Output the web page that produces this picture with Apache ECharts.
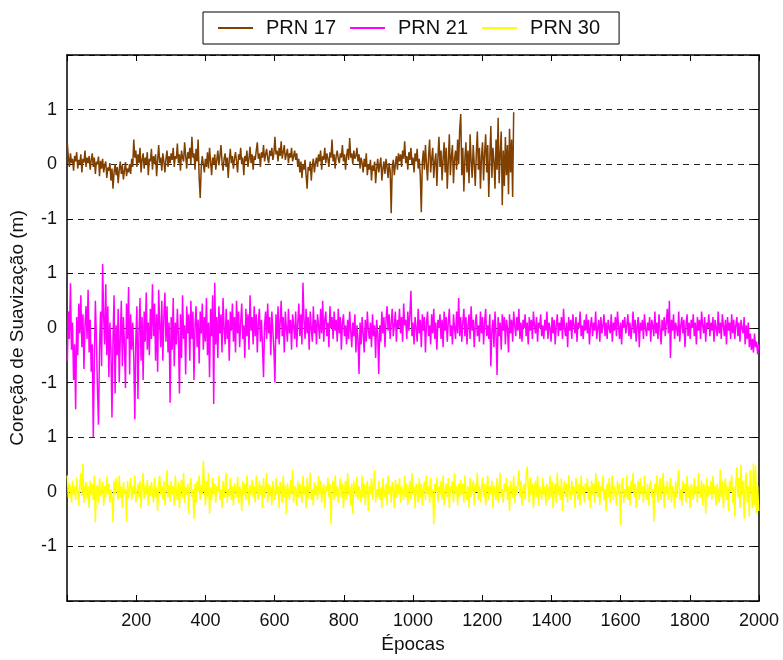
<!DOCTYPE html>
<html><head><meta charset="utf-8">
<script src="https://cdn.jsdelivr.net/npm/echarts@6/dist/echarts.min.js"></script>
<style>html,body{margin:0;padding:0;background:#fff}#c{width:783px;height:660px}</style>
</head><body><div id="c"></div>
<script>
const seriesNames = ['PRN 17', 'PRN 21', 'PRN 30'];
const seriesColors = ['#804000', '#ff00ff', '#ffff00'];
const epochStart = 1;
const epochStep = 3;
const seriesOffsets = [3, 0, -3];
const yTickLabels = ['', '-1', '0', '1', '-1', '0', '1', '-1', '0', '1', ''];
const xTickValues = [200, 400, 600, 800, 1000, 1200, 1400, 1600, 1800, 2000];

const prn17 = [
.38,.12,-.05,.20,.02,.10,-.12,.15,.05,.22,-.08,.08,.00,.18,-.15,.10,.03,.25,-.05,.12,
.02,.15,-.10,.08,.20,-.05,.12,-.18,.05,.00,.14,-.22,.06,-.08,.10,-.15,-.02,.05,-.25,-.06,
-.12,.02,-.30,-.08,-.45,-.15,.00,-.20,-.05,-.35,-.10,.05,-.18,-.02,-.28,-.12,.04,-.22,-.08,-.15,
.00,-.18,.10,-.05,.45,.12,.25,-.05,.18,.02,.30,-.15,.08,.20,-.08,.12,.00,.22,-.20,.10,
.05,.28,-.10,.15,.00,.18,-.22,.08,.35,.02,.12,-.12,.20,.05,-.15,.10,.25,-.05,.15,.02,
.20,.08,.30,-.05,.15,.10,.38,.02,.18,-.12,.25,.12,.05,.40,.15,-.08,.22,.10,.30,.00,
.50,.12,.20,-.10,.28,.05,.45,-.25,-.62,-.05,.15,.00,-.15,.10,-.05,.22,-.08,.30,.05,-.20,
.12,.00,.18,-.10,.08,.25,-.02,.15,.35,.05,-.12,.10,.20,-.05,.12,-.25,.08,.28,.02,.15,
-.08,.10,.22,.05,-.15,.18,.08,.30,.00,.12,-.20,.15,.05,.25,-.05,.10,.32,.02,.18,-.10,
.15,.08,.25,.40,.10,.20,-.05,.22,.12,.35,.05,.18,.28,.10,.02,.25,.15,.30,.08,.20,
.50,.18,.25,.05,.30,.15,.42,.10,.22,.35,.08,.18,.28,.02,.20,.12,.30,.05,.15,.25,
.08,.20,-.05,.10,-.15,.05,-.25,.00,-.10,.08,-.20,-.45,-.05,-.12,.05,-.30,-.02,.10,-.15,.02,
.12,-.05,.18,.05,.25,-.10,.15,.08,.30,.02,.20,.10,-.05,.22,.12,.45,.05,.18,-.08,.15,
.25,.10,.02,.20,.12,.35,.05,.18,-.10,.15,.28,.08,.48,.12,.20,.00,.25,.10,.15,.30,
.05,.18,-.08,.12,.02,-.15,.10,-.05,.20,-.20,.00,-.10,.08,-.30,-.02,-.12,.05,-.35,-.08,.10,
-.15,-.02,.12,-.30,-.08,.05,-.18,.10,-.05,-.25,.02,-.12,-.90,-.05,.08,-.20,.00,.15,-.10,.20,
.05,.18,-.05,.25,.10,.42,.02,.15,-.10,.22,.08,.30,.00,.12,-.15,.20,.05,.28,-.08,.10,
-.20,-.88,.05,.25,-.10,.35,.00,-.30,.15,.45,-.15,.10,.30,-.25,.05,.20,-.40,.12,.50,-.05,
.25,-.30,.10,.40,-.15,.30,-.45,.05,.55,-.20,.15,.35,-.35,.10,.25,-.10,.45,.00,.65,.92,
-.20,.30,-.50,.10,.40,-.15,.25,-.35,.55,.05,-.25,.35,.00,-.40,.20,.60,-.10,.30,-.45,.15,
.40,-.30,.20,.55,-.15,.35,-.60,.10,.70,-.25,.30,.05,-.45,.45,-.10,.85,-.35,.20,.60,-.75,
.25,-.40,.50,-.20,.35,-.55,.65,-.15,.45,-.60,.95
];

const prn21 = [
-.60,.30,-.20,.82,-.40,.10,-.95,-.30,-1.49,.20,-.50,.45,-.10,.60,-.35,.25,-.75,.05,.40,-.20,
.70,-.45,.15,-.80,-.30,-2.00,-.60,.50,-.20,-1.10,-1.77,-.40,.30,-.70,1.17,.20,-.30,.80,-.50,.40,
-.90,.10,-.40,-1.64,-.20,.60,-1.20,.05,-.50,.35,-1.00,-.15,.50,-.70,.20,-.30,-1.10,.45,-.20,.75,
-.85,.25,-.40,.10,-.55,-1.67,-.20,.40,-1.30,-.10,.55,-.60,.20,-.95,.30,-.25,.65,-.40,.10,-.50,
.35,-.20,.80,-.15,.45,-.60,.25,-.80,.70,.05,-.35,.50,-.60,.20,.65,-.25,.40,-.45,.10,-1.37,
.20,-.40,.55,-.70,.10,-.30,.35,-.15,-1.20,.25,-.55,.60,-.20,.05,-.85,.40,-.10,.25,-.60,.50,
-.20,.30,-.95,.05,.40,-.35,.15,-.65,.30,-.10,.45,-.40,.20,-.25,.55,-.50,.10,-.90,.35,-.15,
.60,-1.39,.83,-.30,.20,-.55,.40,-.10,.25,-.45,.55,.00,-.30,.35,-.20,.15,-.60,.30,-.05,.45,
-.25,.20,-.45,.50,-.10,.30,-.35,.10,.45,-.20,.05,-.55,.35,-.15,.25,-.40,.60,-.05,.20,-.30,
.40,-.15,.25,-.45,.10,.35,-.25,.15,-.35,-.90,.05,.30,-.20,.45,-.10,.20,-.50,.30,-.05,-.40,
-1.00,.25,-.20,.40,-.30,.10,.50,-.15,.20,-.45,.30,.00,-.25,.35,-.10,.15,-.40,.25,.05,-.20,
.30,-.35,.10,.45,-.15,.25,-.30,.83,.15,-.20,.35,-.10,.20,-.40,.30,.00,-.25,.40,-.10,.15,
-.30,.25,.05,-.20,.35,-.10,.50,-.25,.15,.30,-.15,.10,-.35,.40,.00,.20,-.20,.30,-.05,.15,
-.25,.35,-.10,.20,-.40,.10,.25,-.15,.05,-.30,.15,-.20,.30,-.05,-.35,.10,-.15,.25,-.45,.05,
-.20,-.84,.10,-.30,.20,-.10,-.45,.15,-.25,.30,-.05,-.20,.10,-.35,.25,-.15,.05,-.55,.15,-.10,
-.84,.05,-.25,.30,-.10,.20,-.35,.15,.40,-.05,.25,-.20,.10,.35,-.15,.05,.30,-.25,.15,.00,
.35,-.10,.20,-.25,.45,.05,.15,-.20,.30,-.05,.25,.68,-.15,.10,-.30,.20,.00,-.25,.35,-.10,
.15,-.35,.25,-.05,.20,-.45,.10,.30,-.15,.05,-.30,.25,-.10,.35,-.20,.10,-.40,.15,.00,.25,
-.20,.15,-.35,.30,-.05,.20,-.25,.10,.35,-.15,.05,-.30,.25,.00,-.20,.30,-.10,.55,-.15,.20,
-.25,.10,.35,-.15,.20,-.30,.05,.25,-.20,.40,-.05,.15,-.35,.10,.25,-.15,.05,-.25,.30,-.10,
.20,-.30,.10,.35,-.15,.05,-.20,.25,-.70,-.05,.15,-.35,.30,-.10,-.86,.20,-.15,.10,-.40,.25,
-.05,.20,-.30,.15,.00,-.45,.25,-.10,.15,-.25,.30,.05,-.15,.20,-.05,.35,-.20,.10,-.25,.15,
.00,.25,-.15,.10,-.30,.20,-.05,.15,-.20,.30,.05,-.10,.20,-.25,.10,.00,.25,-.15,.05,-.20,
.15,-.05,.30,-.20,.10,.00,-.25,.20,-.10,.15,-.30,.05,.25,-.15,.10,-.05,.20,-.20,.35,.00,
-.15,.10,-.35,.20,-.05,.15,-.20,.25,.05,-.10,.20,-.25,.10,.00,.30,-.15,.05,-.20,.15,-.05,
.25,-.10,.15,-.30,.05,.20,-.15,.10,-.05,.30,-.20,.00,.15,-.25,.20,-.10,.05,.25,-.15,.10,
-.20,.15,.00,-.10,.25,-.25,.10,-.05,.20,-.15,.30,.05,-.20,.10,-.30,.15,.00,.20,-.10,.05,
.25,-.15,.10,-.20,.00,.30,-.10,.15,-.25,.05,.20,-.35,.10,-.05,.15,-.20,.25,.00,-.15,.10,
-.05,.20,-.25,.15,.05,-.15,.30,-.10,.10,-.20,.25,.00,-.30,.15,-.05,.20,-.15,.10,.35,-.10,
.50,-.55,.15,-.05,.25,-.20,.10,.00,-.15,.30,-.25,.05,.20,-.10,.15,-.35,.05,.25,-.15,.10,
-.20,.15,.00,.25,-.15,.10,-.30,.20,-.05,.15,-.20,.30,.05,-.10,.20,-.25,.10,.00,.25,-.15,
.10,-.05,.20,-.25,.15,.00,-.15,.30,-.10,.10,-.20,.25,.05,-.15,.15,-.30,.20,-.05,.10,-.20,
.25,-.10,.15,-.20,.05,.20,-.15,.10,-.25,.15,.00,-.10,.20,-.30,.05,-.20,.10,-.35,-.10,-.40,
-.20,-.45,-.10,-.35,-.25,-.48,-.30
];

const prn30 = [
.30,-.10,.15,.05,-.20,.20,-.05,.10,-.15,.25,.00,-.25,.12,.35,-.08,.51,-.20,.05,.18,-.12,
.10,-.30,.20,-.05,.15,-.15,.30,-.56,.05,.12,-.20,.25,-.08,.00,.18,-.25,.10,-.10,.28,-.05,
.15,-.20,.05,-.10,-.56,.20,-.05,.25,.00,-.15,.30,-.10,.10,-.30,.18,-.05,.05,-.55,.20,-.12,
.08,.25,-.15,.10,-.05,.30,-.20,.00,.15,-.10,.20,-.30,.05,.35,-.12,.10,-.05,.22,-.25,.12,
-.08,.18,.00,-.20,.25,-.10,.08,-.35,.15,.30,-.05,.10,-.15,.20,-.25,.05,.40,-.10,.12,-.18,
.20,-.05,.10,-.25,.30,.00,-.15,.18,-.30,.05,.22,-.10,.35,-.20,.08,-.05,.15,-.40,.10,.25,
-.10,.05,-.50,.15,-.20,.20,.00,.30,-.15,.12,-.05,.57,.10,-.25,.20,-.10,.35,-.40,.08,-.15,
.25,-.05,.15,-.20,.10,.00,.30,-.15,.05,-.30,.20,-.10,.12,.35,-.20,.05,-.08,.25,-.15,.10,
-.25,.15,.05,-.10,.28,-.20,.10,.00,-.35,.20,-.05,.15,-.15,.30,.05,-.25,.12,-.05,.22,-.10,
.10,-.20,.30,.00,-.15,.20,-.05,.12,-.30,.25,-.10,.05,.35,-.20,.15,-.08,.10,-.25,.20,.00,
-.15,.25,-.05,.10,-.30,.18,.05,-.20,.30,-.10,.12,-.40,.15,.00,-.15,.22,-.05,.40,-.20,.10,
.05,-.25,.20,-.10,.15,.00,-.20,.30,-.05,.10,-.30,.25,-.12,.08,.35,-.15,.05,-.25,.18,-.05,
.12,-.15,.30,-.05,.20,-.20,.05,.15,-.30,.10,.00,.25,-.10,.15,-.60,.05,.20,-.15,.30,-.08,
.10,-.20,.05,.25,-.10,.15,-.30,.00,.20,-.15,.35,-.05,.10,-.25,.15,-.40,.20,.05,-.10,.28,
-.15,.10,.00,-.20,.30,-.10,.15,-.25,.05,.20,-.35,.10,-.05,.25,-.15,.12,.40,-.20,.05,-.10,
.20,-.15,.08,-.30,.25,.00,-.10,.15,-.25,.30,-.05,.10,-.20,.18,.05,-.30,.22,-.10,.15,-.05,
.25,-.20,.10,.00,-.15,.30,-.10,.15,-.25,.05,.20,-.15,.35,-.05,.10,-.30,.15,.00,-.20,.25,
-.10,.15,-.25,.05,.20,-.15,.30,-.05,.10,-.20,.25,-.10,.05,-.60,.15,.00,.25,-.20,.10,-.05,
.20,-.15,.30,-.25,.05,.15,-.10,.25,-.30,.10,.00,.20,-.20,.35,-.05,.10,-.25,.15,-.10,.22,
-.05,.15,-.20,.30,.00,-.15,.10,-.30,.25,-.10,.05,.20,-.25,.15,.00,.35,-.15,.10,-.20,.05,
.25,-.10,.15,-.25,.05,.30,-.15,.10,-.05,.20,-.30,.12,.00,-.15,.25,-.20,.10,.35,-.10,.05,
-.20,.15,.00,.25,-.15,.10,-.35,.20,.05,-.10,.30,-.20,.10,-.05,.15,.40,-.10,.20,-.25,.05,
.15,-.15,.30,.46,.10,-.20,.25,-.05,.15,-.30,.05,.20,-.10,.30,-.25,.10,.00,-.15,.25,-.05,
.10,-.25,.15,.05,-.15,.30,-.10,.20,-.30,.00,.15,-.20,.35,-.05,.10,-.15,.25,-.35,.05,.20,
-.10,.15,-.20,.30,.00,-.15,.20,-.05,.10,-.30,.25,.05,-.15,.15,-.25,.30,-.05,.10,-.20,.15,
.00,.25,-.15,.10,-.30,.20,-.05,.15,-.20,.35,.05,-.10,.20,-.25,.10,.00,.30,-.15,.05,-.35,
.15,-.10,.25,-.20,.05,.30,-.15,.10,.00,-.25,.20,-.05,.15,-.62,.10,.25,-.20,.05,-.10,.30,
-.15,.10,-.25,.20,.00,.35,-.10,.15,-.30,.05,.20,-.15,.25,-.05,.10,-.20,.30,.00,-.15,.15,
-.25,.10,.20,-.10,.05,-.55,.15,-.05,.30,-.20,.10,.25,-.15,.05,.35,-.30,.10,-.05,.20,-.15,
.05,.25,-.20,.10,.00,-.30,.20,-.10,.15,.40,-.15,.05,-.25,.20,.00,.15,-.20,.30,-.10,.10,
-.30,.15,.05,-.15,.25,-.05,.10,-.20,.35,.00,-.10,.20,-.25,.15,.05,-.40,.25,-.10,.10,-.05,
.20,-.15,.30,-.05,.10,-.25,.15,.00,-.20,.40,-.10,.20,-.30,.05,.25,-.15,.10,-.35,.20,.00,
.30,-.20,.10,-.45,.15,.45,-.10,.25,-.30,.50,-.05,.20,-.50,.15,.35,-.20,.10,-.45,.40,.05,
-.30,.52,-.25,.48,-.40,.10,-.35
];

const seriesValues = [prn17, prn21, prn30];
const FONT = '"Liberation Sans", Arial, sans-serif';

const chart = echarts.init(document.getElementById('c'), null, { renderer: 'canvas' });

const series = seriesValues.map((vals, k) => ({
  name: seriesNames[k],
  type: 'line',
  symbol: 'none',
  showSymbol: false,
  animation: false,
  color: seriesColors[k],
  itemStyle: { color: seriesColors[k] },
  lineStyle: { color: seriesColors[k], width: 1.5 },
  data: vals.map((v, i) => [epochStart + i * epochStep, v + seriesOffsets[k]])
}));

const axisCommon = {
  axisLine: { show: true, onZero: false, lineStyle: { color: '#000', width: 1.5 } },
  axisTick: { show: true, inside: true, length: 6, lineStyle: { color: '#000', width: 1 } }
};

chart.setOption({
  backgroundColor: '#fff',
  animation: false,
  textStyle: { fontFamily: FONT },
  legend: {
    left: 203, top: 12,
    padding: [6, 19, 6, 15],
    itemGap: 14,
    icon: 'rect',
    itemWidth: 35, itemHeight: 2,
    borderColor: '#000', borderWidth: 1,
    backgroundColor: '#fff',
    textStyle: { fontFamily: FONT, fontSize: 20, color: '#111', padding: [0, 0, 0, 8] },
    data: seriesNames
  },
  grid: { left: 66, right: 24, top: 55, bottom: 59, containLabel: false },
  xAxis: [
    Object.assign({
      type: 'value', min: 0, max: 2000, interval: 200, position: 'bottom',
      name: 'Épocas', nameLocation: 'middle', nameGap: 32,
      nameTextStyle: { fontFamily: FONT, fontSize: 19, color: '#111' },
      axisLabel: { fontFamily: FONT, fontSize: 18, color: '#111', margin: 11,
        formatter: v => (xTickValues.indexOf(v) >= 0 ? String(v) : '') },
      splitLine: { show: false }
    }, axisCommon),
    Object.assign({
      type: 'value', min: 0, max: 2000, interval: 200, position: 'top',
      axisLabel: { show: false }, splitLine: { show: false }
    }, axisCommon)
  ],
  yAxis: [
    Object.assign({
      type: 'value', min: -5, max: 5, interval: 1, position: 'left',
      name: 'Coreção de Suavização (m)', nameLocation: 'middle', nameGap: 40,
      nameTextStyle: { fontFamily: FONT, fontSize: 19, color: '#111' },
      axisLabel: { fontFamily: FONT, fontSize: 18, color: '#111', margin: 10,
        formatter: v => yTickLabels[Math.round(v) + 5] },
      splitLine: { show: true, lineStyle: { color: '#222', width: 1.2, type: [6, 5] } }
    }, axisCommon),
    Object.assign({
      type: 'value', min: -5, max: 5, interval: 1, position: 'right',
      axisLabel: { show: false }, splitLine: { show: false }
    }, axisCommon)
  ],
  series: series
});
</script>
</body></html>
